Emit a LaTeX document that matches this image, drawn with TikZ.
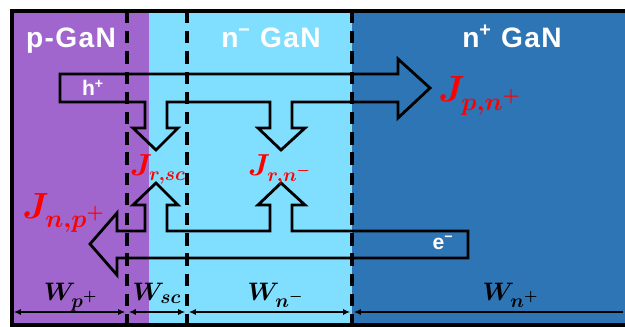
\documentclass[tikz,border=0pt]{standalone}
\usepackage{amsmath,bm}
\usepackage{fontspec}
\usetikzlibrary{arrows.meta}
\newfontfamily\layerfont[LetterSpace=5]{Liberation Sans}
\newfontfamily\carrierfont{Liberation Sans}
\definecolor{pgan}{RGB}{161,102,206}
\definecolor{ngan}{RGB}{128,223,255}
\definecolor{npgan}{RGB}{46,117,182}

\begin{document}
\begin{tikzpicture}[x=0.02cm,y=-0.02cm,>=Latex,
  layer/.style={text=white,inner sep=0pt,anchor=base,font=\layerfont\bfseries\fontsize{16}{18}\selectfont},
  carrier/.style={text=white,inner sep=0pt,font=\carrierfont\bfseries\fontsize{12}{14}\selectfont},
  flux/.style={draw,line width=1.6pt,line join=miter},
  junction/.style={draw,line width=2.2pt,dash pattern=on 7pt off 4.5pt},
  jbig/.style={text=red,inner sep=0pt,anchor=base west,font=\fontsize{22}{24}\selectfont},
  jsmall/.style={text=red,inner sep=0pt,anchor=base,font=\fontsize{16}{18}\selectfont},
  wlab/.style={inner sep=0pt,anchor=base,font=\fontsize{15.5}{17}\selectfont},
  dim/.style={draw,line width=0.8pt,arrows={Latex[length=4pt,width=3.5pt]-Latex[length=4pt,width=3.5pt]},shorten <=1pt,shorten >=1pt}]

\useasboundingbox (0,0) rectangle (625,327);

% x positions of the boundaries
\def\xl{12}
\def\xa{127}
\def\xm{149}
\def\xb{187}
\def\xc{352}
\def\xr{625}

% layer fills
\fill[pgan] (\xl,11) rectangle (\xm,325);
\fill[ngan] (\xm,11) rectangle (\xc,325);
\fill[npgan] (\xc,11) rectangle (\xr,325);

% outer frame
\draw[line width=2pt] (\xr,11) -- (\xl,11) -- (\xl,325) -- (\xr,325);

% layer names
\node[layer] (pl) at (71,48) {p-GaN};
\node[layer] (nl) at (271,48) {n\textsuperscript{−} GaN};
\node[layer] (nh) at (512,48) {n\textsuperscript{+} GaN};

% hole flux with two recombination branches
\draw[flux] (60,74) -- (398,74) -- (398,59) -- (430,88) -- (398,118) -- (398,102)
  -- (292,102) -- (292,128) -- (305,128) -- (281,150) -- (258,128) -- (270,128) -- (270,102)
  -- (167,102) -- (167,128) -- (178,128) -- (156,150) -- (133,128) -- (145,128) -- (145,102)
  -- (60,102) -- cycle;

% electron flux with two recombination branches
\draw[flux] (468,231) -- (468,258) -- (117,258) -- (117,275) -- (90,244) -- (117,213) -- (117,231)
  -- (145,231) -- (145,205) -- (133,205) -- (156,183) -- (178,205) -- (167,205) -- (167,231)
  -- (270,231) -- (270,205) -- (258,205) -- (281,183) -- (305,205) -- (292,205) -- (292,231)
  -- cycle;

% space charge region boundaries
\foreach \xx in {\xa,\xb,\xc}{
  \draw[junction] (\xx,11) -- (\xx,327);
}

% carriers
\node[carrier] (h) at (93,88) {h\textsuperscript{+}};
\node[carrier] (e) at (443,243) {e\textsuperscript{−}};

% current densities
\node[jbig] (Jpn) at (438,102) {$\bm{J_{p,n^+}}$};
\node[jbig] (Jnp) at (22,219) {$\bm{J_{n,p^+}}$};
\node[jsmall] (Jrsc) at (158,176) {$\bm{J_{r,sc}}$};
\node[jsmall] (Jrn) at (280,176) {$\bm{J_{r,n^-}}$};

% widths
\coordinate (b0) at (\xl,312);
\coordinate (b1) at (\xa,312);
\coordinate (b2) at (\xb,312);
\coordinate (b3) at (\xc,312);
\coordinate (b4) at (\xr,312);
\draw[dim] (b0) -- (b1);
\draw[dim] (b1) -- (b2);
\draw[dim] (b2) -- (b3);
\draw[dim,arrows={Latex[length=4pt,width=3.5pt]-}] (b3) -- (b4);
\node[wlab] (Wp) at (71,300) {$\bm{W_{p^+}}$};
\node[wlab] (Wsc) at (157,300) {$\bm{W_{sc}}$};
\node[wlab] (Wn) at (276,300) {$\bm{W_{n^-}}$};
\node[wlab] (Wnp) at (511,300) {$\bm{W_{n^+}}$};

\end{tikzpicture}
\end{document}
